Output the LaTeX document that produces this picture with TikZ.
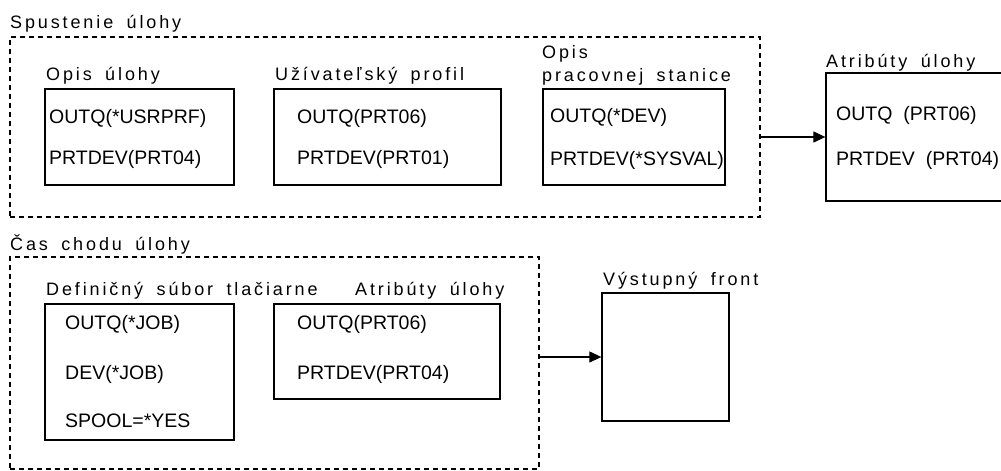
\documentclass[tikz,border=0pt]{standalone}
\usepackage{fontspec}
\setmainfont{Liberation Sans}
\newfontfamily\lblfont[LetterSpace=16,WordSpace=1.7]{Liberation Sans}
\usetikzlibrary{arrows.meta,fit}
\tikzset{
  panel/.style={draw, line width=1.1pt, dash pattern=on 5pt off 4pt, rectangle, inner sep=0pt},
  card/.style={draw, line width=1.3pt, rectangle, inner sep=0pt},
  entry/.style={anchor=base west, inner sep=0pt, font=\fontsize{19.5}{22}\selectfont},
  caption/.style={anchor=base west, inner sep=0pt, font=\lblfont\fontsize{18}{22}\selectfont},
  flow/.style={line width=1.2pt, -{Triangle[length=12pt,width=11pt]}},
}
\begin{document}
\begin{tikzpicture}[x=1pt,y=-1pt]
\useasboundingbox (0,0) rectangle (1001,471);

% --- job start group ---
\node[caption] (startcap) at (10,28) {Spustenie úlohy};
\node[panel, fit={(10,37) (760,217)}] (start) {};

\node[caption] (jobdcap) at (46,80) {Opis úlohy};
\node[card, fit={(45,89) (234,185)}] (jobd) {};
\node[entry] (jobd1) at (49,123) {OUTQ(*USRPRF)};
\node[entry] (jobd2) at (49,164) {PRTDEV(PRT04)};

\node[caption] (usrcap) at (275,80) {Užívateľský profil};
\node[card, fit={(274,89) (501,185)}] (usr) {};
\node[entry] (usr1) at (297,123) {OUTQ(PRT06)};
\node[entry] (usr2) at (297,164) {PRTDEV(PRT01)};

\node[caption] (wscap1) at (542,58) {Opis};
\node[caption] (wscap2) at (542,81) {pracovnej stanice};
\node[card, fit={(543,89) (725,185)}] (ws) {};
\node[entry] (ws1) at (550,122) {OUTQ(*DEV)};
\node[entry] (ws2) at (550,165) {PRTDEV(*SYSVAL)};

\node[caption] (attrcap) at (826,67) {Atribúty úlohy};
\node[card, fit={(826,73) (1005,201)}] (attr) {};
\node[entry] (attr1) at (836,120) {OUTQ\ \ (PRT06)};
\node[entry] (attr2) at (836,165) {PRTDEV\ \ (PRT04)};

\draw[flow] (attr.west -| start.east) -- (attr.west);

% --- job run time group ---
\node[caption] (runcap) at (10,250) {Čas chodu úlohy};
\node[panel, fit={(10,257) (539,469)}] (run) {};

\node[caption] (prtfcap) at (46,295) {Definičný súbor tlačiarne};
\node[card, fit={(45,304) (234,440)}] (prtf) {};
\node[entry] (prtf1) at (65,329) {OUTQ(*JOB)};
\node[entry] (prtf2) at (65,379) {DEV(*JOB)};
\node[entry] (prtf3) at (65,427) {SPOOL=*YES};

\node[caption] (rattrcap) at (355,295) {Atribúty úlohy};
\node[card, fit={(274,304) (500,399)}] (rattr) {};
\node[entry] (rattr1) at (297,329) {OUTQ(PRT06)};
\node[entry] (rattr2) at (297,379) {PRTDEV(PRT04)};

\node[caption] (outqcap) at (603,285) {Výstupný front};
\node[card, fit={(602,293) (729,421)}] (outq) {};

\draw[flow] (outq.west -| run.east) -- (outq.west);
\end{tikzpicture}
\end{document}
